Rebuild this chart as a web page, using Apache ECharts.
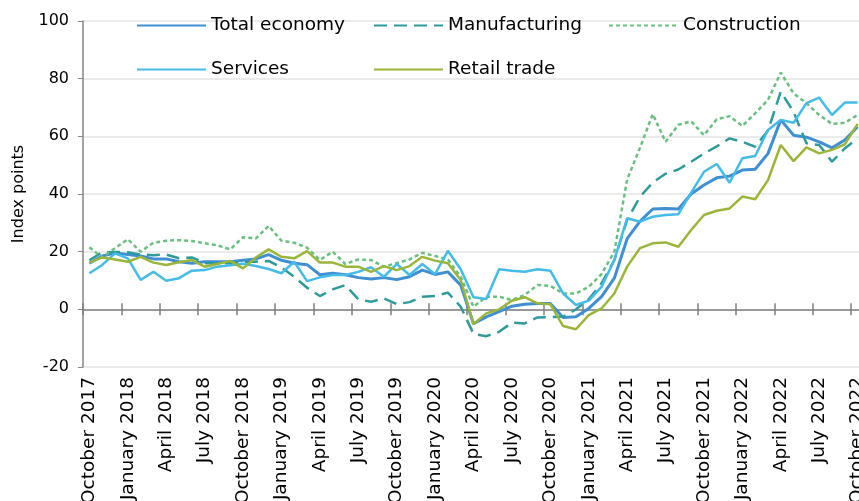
<!DOCTYPE html>
<html>
<head>
<meta charset="utf-8">
<script src="https://cdn.jsdelivr.net/npm/echarts@6/dist/echarts.min.js"></script>
<style>
    html, body { margin: 0; padding: 0; background: #fff; }
    #index-chart { width: 859px; height: 501px; }
</style>
</head>
<body>
<div id="index-chart"></div>
<script>
var monthNames = ['January','February','March','April','May','June','July','August','September','October','November','December'];
var startYear = 2017, startMonth = 9, monthCount = 61;  // October 2017 .. October 2022

var totalEconomy = [16, 18.5, 19.5, 19, 18.5, 17.5, 17.5, 16.5, 16, 16.5, 16.5, 16.5, 17, 17.5, 19, 17, 16, 15.5, 12, 12.5,
    12, 11, 10.5, 11, 10.3, 11.3, 13.6, 12.1, 13, 8.4, -5, -2.6, -0.8, 1.1, 1.8, 2, 2, -2.8, -2.6, 0.3,
    4.4, 10.8, 24.5, 30.5, 34.8, 35, 34.8, 40, 43.1, 45.6, 46.2, 48.3, 48.6, 54, 65.7, 60.4, 59.7, 58.1, 56, 58.7, 63.3];
var manufacturing = [17, 19.8, 19.9, 19.8, 19, 18.8, 19, 17.7, 18, 16, 16, 16, 16.5, 16.5, 16.8, 14.5, 11.3, 7.5, 4.6, 6.9,
    8.4, 3.5, 2.6, 3.8, 1.8, 2.5, 4.4, 4.6, 5.8, 0.9, -8.5, -9.3, -7.8, -4.6, -4.9, -2.8, -2.7, -2.5, 0, 3.5,
    9, 17.1, 31, 39, 44, 47, 48.5, 51.2, 54, 56.5, 59.3, 58.1, 56.4, 62, 75.5, 68.5, 57.6, 57, 51.2, 55.8, 59.3];
var construction = [21.5, 18, 21.2, 24.3, 20, 23.1, 23.8, 24, 23.7, 22.9, 22.2, 20.8, 25, 24.6, 28.9, 23.8, 23.1, 21.4, 17.1, 20,
    15.7, 17.3, 17.1, 14.8, 16, 17.3, 19.6, 18.5, 17.3, 11.3, 0.9, 4.4, 4.4, 3.2, 5, 8.4, 8.1, 5.5, 5.5, 7.8,
    12.2, 20, 45, 56, 67.7, 58.1, 64, 65.2, 60.4, 65.9, 67, 63.6, 68, 72.6, 82.1, 74.9, 71.5, 67.4, 64.3, 64.7, 67.4];
var services = [12.5, 15.4, 19.4, 17.7, 10.2, 13, 9.9, 10.8, 13.4, 13.6, 14.8, 15.3, 15.8, 15, 14, 12.5, 16.5, 9.8, 11.1, 11.9,
    11.9, 13, 14.6, 11.3, 15.7, 11.9, 15.7, 12.2, 20.3, 13.9, 4.2, 3.6, 13.9, 13.4, 13, 13.9, 13.4, 5.5, 1.5, 3,
    7.8, 17.1, 31.6, 30.4, 32.1, 32.7, 33, 40.5, 47.7, 50.4, 43.9, 52.4, 53.2, 62.2, 65.7, 64.7, 71.5, 73.4, 67.4, 71.7, 71.7];
var retailTrade = [16.2, 18, 17.3, 16.5, 18.2, 16.2, 15.4, 16.3, 17.1, 14.8, 15.7, 16.8, 14.2, 18, 20.8, 18.2, 17.7, 20.2, 16.2, 16.2,
    14.8, 14.8, 13, 15, 13.6, 15, 18.2, 16.9, 16, 10.2, -5.1, -1.4, 0, 3, 4.2, 2.1, 1.8, -5.8, -6.9, -2,
    0.3, 5.5, 14.8, 21.2, 22.9, 23.2, 21.7, 27.5, 32.7, 34.2, 35, 39.1, 38.2, 44.8, 57, 51.4, 56.2, 54.1, 55.3, 57.2, 64.3];

var seriesNames = ['Total economy', 'Manufacturing', 'Construction', 'Services', 'Retail trade'];
var seriesColors = ['#3f8fd2', '#2f9a9a', '#6abf80', '#45bbe8', '#9bb53b'];
var yTicks = { min: -20, max: 100, step: 20 };

function buildCategories(){
    var cats = [];
    for (var i = 0; i < monthCount; i++) {
        var m = (startMonth + i) % 12;
        var y = startYear + Math.floor((startMonth + i) / 12);
        cats.push(monthNames[m] + ' ' + y);
    }
    return cats;
}

function indexChart(){
    var chart = echarts.init(document.getElementById('index-chart'));
    var categories = buildCategories();
    var font = 'DejaVu Sans';
    var legendLeft = [136, 373, 608, 136, 373];
    var legendTop = [16, 16, 16, 60, 60];

    var legends = seriesNames.map(function (name, i) {
        return {
            data: [name],
            left: legendLeft[i],
            top: legendTop[i],
            padding: 0,
            itemWidth: 69,
            itemHeight: 16,
            itemStyle: { opacity: 0 },
            textStyle: { fontFamily: font, fontSize: 18.5, color: '#000' }
        };
    });

    var lineStyles = [
        { width: 3 },
        { width: 2.5, type: [13, 7] },
        { width: 2.5, type: [4, 3] },
        { width: 2.5 },
        { width: 2.5 }
    ];
    var seriesData = [totalEconomy, manufacturing, construction, services, retailTrade];

    var series = seriesNames.map(function (name, i) {
        var ls = lineStyles[i];
        ls.color = seriesColors[i];
        return {
            name: name,
            type: 'line',
            xAxisIndex: 0,
            symbol: 'none',
            data: seriesData[i],
            lineStyle: ls,
            itemStyle: { color: seriesColors[i] },
            animation: false
        };
    });

    var option = {
        legend: legends,
        grid: {
            left: 83,
            right: -5,
            top: 21,
            bottom: 134,
            containLabel: false,
            outerBoundsMode: 'none'
        },
        xAxis: [
            {
                type: 'category',
                data: categories,
                boundaryGap: true,
                position: 'bottom',
                axisLine: { onZero: true, onZeroAxisIndex: 0, lineStyle: { color: '#7f7f7f', width: 1.5 } },
                axisTick: { show: true, interval: 2, length: 6, lineStyle: { color: '#7f7f7f', width: 1.5 } },
                axisLabel: { show: false },
                splitLine: { show: false }
            },
            {
                type: 'category',
                data: categories,
                boundaryGap: true,
                position: 'bottom',
                offset: 0,
                axisLine: { show: false, onZero: true, onZeroAxisIndex: 0 },
                axisTick: { show: true, inside: true, interval: 2, length: 6, lineStyle: { color: '#7f7f7f', width: 1.5 } },
                axisLabel: { show: false },
                splitLine: { show: false }
            },
            {
                type: 'category',
                data: categories,
                boundaryGap: true,
                position: 'bottom',
                offset: 0,
                axisLine: { show: false, onZero: false },
                axisTick: { show: false },
                axisLabel: {
                    interval: 2,
                    rotate: 90,
                    margin: 10,
                    fontFamily: font,
                    fontSize: 18.5,
                    color: '#000'
                },
                splitLine: { show: false }
            }
        ],
        yAxis: {
            type: 'value',
            min: yTicks.min,
            max: yTicks.max,
            interval: yTicks.step,
            name: 'Index points',
            nameLocation: 'middle',
            nameGap: 56,
            nameTextStyle: { fontFamily: font, fontSize: 16, color: '#000' },
            axisLine: { show: true, lineStyle: { color: '#868686', width: 1.5 } },
            axisTick: { show: true, length: 5, lineStyle: { color: '#868686' } },
            axisLabel: { margin: 14, fontFamily: font, fontSize: 16, color: '#000' },
            splitLine: { show: true, lineStyle: { color: '#ebebeb', width: 2 } }
        },
        series: series
    };

    chart.setOption(option);
}

indexChart();
</script>
</body>
</html>
